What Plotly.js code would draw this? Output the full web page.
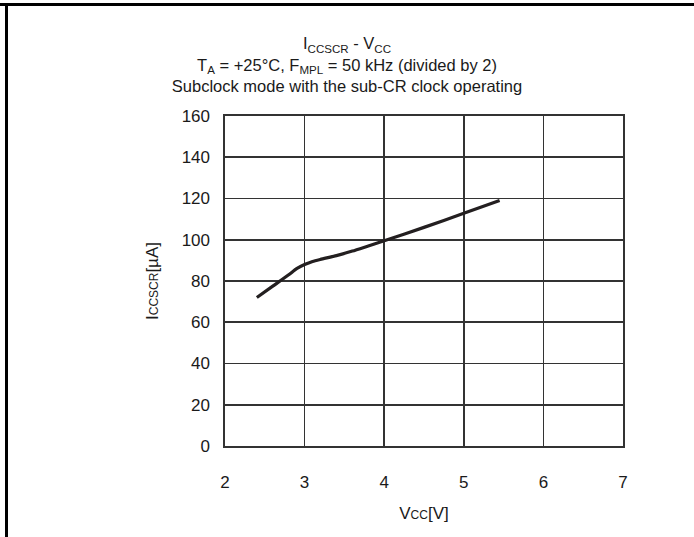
<!DOCTYPE html>
<html>
<head>
<meta charset="utf-8">
<script src="https://cdn.plot.ly/plotly-3.0.1.min.js"></script>
<style>html,body{margin:0;padding:0;background:#fff;}#chart{width:694px;height:537px;}</style>
</head>
<body>
<div id="chart"></div>
<script>
// Data
const vcc = [2.4, 2.6, 2.8, 2.9, 3.0, 3.1, 3.2, 3.4, 3.6, 3.8, 4.0, 4.5, 5.0, 5.45];
const iccscr = [72, 77.5, 83, 86, 88, 89.5, 90.5, 92.3, 94.5, 97, 99.5, 106, 112.8, 119];
const xTicks = [2, 3, 4, 5, 6, 7];
const yTicks = [0, 20, 40, 60, 80, 100, 120, 140, 160];

const titleText = 'I<sub>CCSCR</sub> - V<sub>CC</sub><br>' +
  'T<sub>A</sub> = +25°C, F<sub>MPL</sub> = 50 kHz (divided by 2)<br>' +
  'Subclock mode with the sub-CR clock operating';
const xTitle = 'V<span style="font-size:12px">CC</span>[V]';
const yTitle = 'I<span style="font-size:12px">CCSCR</span>[µA]';

const gridColor = '#333333';
const fontFam = '"Liberation Sans", Arial, sans-serif';

const trace = {
  x: vcc, y: iccscr, type: 'scatter', mode: 'lines',
  line: {color: '#231f20', width: 3.2, shape: 'spline', smoothing: 0.6},
  hoverinfo: 'skip'
};

const layout = {
  width: 694, height: 537,
  margin: {l: 225, r: 71, t: 116, b: 91, pad: 0},
  paper_bgcolor: '#ffffff', plot_bgcolor: '#ffffff',
  showlegend: false,
  font: {family: fontFam, color: '#1a1a1a', size: 16},
  title: {
    text: titleText, x: 0.5, xanchor: 'center', xref: 'container',
    y: 0.908, yanchor: 'top', yref: 'container',
    font: {family: fontFam, size: 16.5, color: '#1a1a1a'}
  },
  xaxis: {
    range: [2, 7], tickvals: xTicks, ticktext: xTicks.map(String),
    showgrid: true, gridcolor: gridColor, gridwidth: 1.6,
    zeroline: false, showline: true, linecolor: gridColor, linewidth: 1.6, mirror: true,
    ticks: 'outside', ticklen: 20, tickcolor: 'rgba(0,0,0,0)',
    tickfont: {family: fontFam, size: 17, color: '#1a1a1a'},
    title: {text: xTitle, standoff: 16, font: {family: fontFam, size: 17, color: '#1a1a1a'}},
    fixedrange: true
  },
  yaxis: {
    range: [0, 160], tickvals: yTicks, ticktext: yTicks.map(String),
    showgrid: true, gridcolor: gridColor, gridwidth: 1.6,
    zeroline: false, showline: true, linecolor: gridColor, linewidth: 1.6, mirror: true,
    ticks: 'outside', ticklen: 10, tickcolor: 'rgba(0,0,0,0)',
    tickfont: {family: fontFam, size: 17, color: '#1a1a1a'},
    title: {text: yTitle, standoff: 18, font: {family: fontFam, size: 17, color: '#1a1a1a'}},
    fixedrange: true
  },
  shapes: [
    // outer frame: top edge and left edge of the figure box
    {type: 'line', xref: 'paper', yref: 'paper',
     x0: (0 - 225) / 398, x1: (694 - 225) / 398, y0: (446 - 4.5) / 330, y1: (446 - 4.5) / 330,
     line: {color: '#000', width: 3}},
    {type: 'line', xref: 'paper', yref: 'paper',
     x0: (6.5 - 225) / 398, x1: (6.5 - 225) / 398, y0: (446 - 3) / 330, y1: (446 - 540) / 330,
     line: {color: '#000', width: 3}}
  ]
};

Plotly.newPlot('chart', [trace], layout, {displayModeBar: false, staticPlot: true});
</script>
</body>
</html>
